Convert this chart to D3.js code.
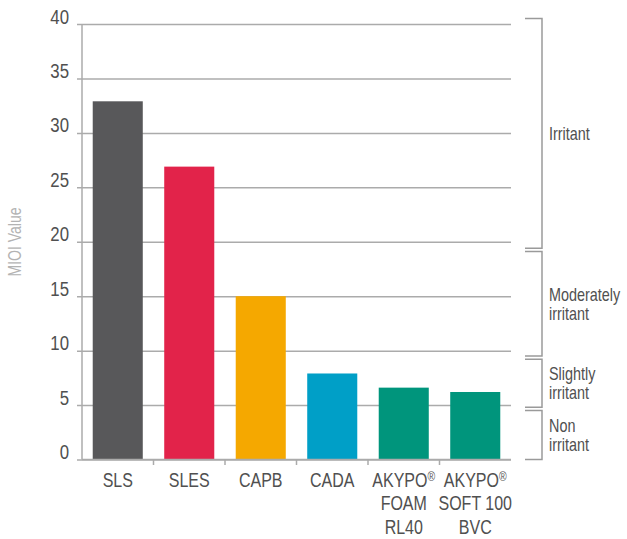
<!DOCTYPE html>
<html>
<head>
<meta charset="utf-8">
<script src="https://cdn.jsdelivr.net/npm/d3@7"></script>
<style>
  html, body { margin: 0; padding: 0; background: #fff; }
  svg { display: block; }
  text { font-family: "Liberation Sans", Arial, sans-serif; }
</style>
</head>
<body>
<svg id="chart" width="627" height="539"></svg>
<script>
// ---- data ----
const categories = ["SLS", "SLES", "CAPB", "CADA", "AKYPO® FOAM RL40", "AKYPO® SOFT 100 BVC"];
const labelLines = [["SLS"], ["SLES"], ["CAPB"], ["CADA"], ["AKYPO®", "FOAM", "RL40"], ["AKYPO®", "SOFT 100", "BVC"]];
const values = [32.9, 26.9, 15.0, 7.9, 6.6, 6.2];
const barColors = ["#58585a", "#e2234a", "#f5a800", "#009fc7", "#00957c", "#00957c"];
const yTicks = [0, 5, 10, 15, 20, 25, 30, 35, 40];
const yTitle = "MIOI Value";
const bracketLabels = [["Irritant"], ["Moderately", "irritant"], ["Slightly", "irritant"], ["Non", "irritant"]];
const bracketTop = [40.5, 19.1, 9.2, 4.5];
const bracketBottom = [19.4, 9.5, 4.8, 0];

// ---- layout ----
const NARROW = 0.8;
const svg = d3.select("#chart");
const x0 = 82, x1 = 511, yTopPx = 24, yBotPx = 459.5;
const y = d3.scaleLinear().domain([0, 40]).range([yBotPx, yTopPx]);
const x = d3.scaleBand().domain(categories).range([x0, x1]).paddingInner(0.3).paddingOuter(0.15);
const gridColor = "#ababab";
const textColor = "#505050";

// gridlines + y labels via axis
const yAxis = d3.axisLeft(y).tickValues(yTicks).tickSize(-(x1 - 77)).tickPadding(0).tickFormat(d3.format("d"));
const gy = svg.append("g").attr("transform", `translate(77,0)`).call(yAxis);
gy.select(".domain").remove();
gy.selectAll(".tick line").attr("stroke", gridColor).attr("stroke-width", 1.5);
gy.selectAll(".tick text")
  .attr("fill", textColor)
  .attr("font-size", 21)
  .attr("x", 0)
  .attr("dy", null)
  .attr("y", -1)
  .attr("transform", `translate(-8,0) scale(${NARROW},1)`)
  .style("font-family", '"Liberation Sans", Arial, sans-serif');

// bars
svg.append("g").selectAll("rect").data(categories).join("rect")
  .attr("x", d => x(d))
  .attr("width", x.bandwidth())
  .attr("y", (d, i) => y(values[i]))
  .attr("height", (d, i) => y(0) - y(values[i]))
  .attr("fill", (d, i) => barColors[i]);

// vertical axis line
svg.append("line").attr("x1", x0).attr("x2", x0).attr("y1", y(40)).attr("y2", y(0))
  .attr("stroke", gridColor).attr("stroke-width", 1.5);
// x axis line
svg.append("line").attr("x1", x0).attr("x2", x1).attr("y1", y(0)).attr("y2", y(0))
  .attr("stroke", gridColor).attr("stroke-width", 1.5);
// x separator ticks
const step = x.step();
svg.append("g").selectAll("line").data(categories.slice(1)).join("line")
  .attr("x1", d => x(d) - step * x.paddingInner() / 2)
  .attr("x2", d => x(d) - step * x.paddingInner() / 2)
  .attr("y1", y(0)).attr("y2", y(0) + 5.5)
  .attr("stroke", gridColor).attr("stroke-width", 1.5);

// x labels
const xl = svg.append("g").selectAll("text").data(categories).join("text")
  .attr("text-anchor", "middle")
  .attr("fill", textColor)
  .attr("font-size", 20)
  .attr("transform", d => `translate(${x(d) + x.bandwidth() / 2},487) scale(${NARROW},1)`);
xl.each(function (d, i) {
  const t = d3.select(this);
  labelLines[i].forEach((ln, j) => {
    const ts = t.append("tspan").attr("x", 0).attr("y", j * 23.5);
    if (ln.endsWith("®")) {
      ts.text(ln.slice(0, -1));
      ts.append("tspan").attr("font-size", 13).attr("dy", "-0.5em").text("®");
    } else {
      ts.text(ln);
    }
  });
});

// y title
svg.append("text")
  .attr("transform", `translate(21,242) rotate(-90) scale(${NARROW},1)`)
  .attr("text-anchor", "middle")
  .attr("fill", "#b3b3b3")
  .attr("font-size", 17.5)
  .text(yTitle);

// brackets
const bx = 542, bArm = 525;
const bg = svg.append("g").selectAll("g").data(bracketLabels).join("g");
bg.append("path")
  .attr("d", (d, i) => `M${bArm},${y(bracketTop[i])}H${bx}V${y(bracketBottom[i])}H${bArm}`)
  .attr("fill", "none").attr("stroke", "#9a9a9a").attr("stroke-width", 1.5);
bg.each(function (d, i) {
  const mid = (y(bracketTop[i]) + y(bracketBottom[i])) / 2;
  const lh = 19;
  const start = mid - (d.length - 1) * lh / 2;
  const t = d3.select(this).append("text")
    .attr("fill", textColor).attr("font-size", 18)
    .attr("transform", `translate(549,0) scale(${NARROW},1)`);
  d.forEach((ln, j) => {
    t.append("tspan").attr("x", 0).attr("y", start + j * lh).attr("dy", "0.35em").text(ln);
  });
});
</script>
</body>
</html>
